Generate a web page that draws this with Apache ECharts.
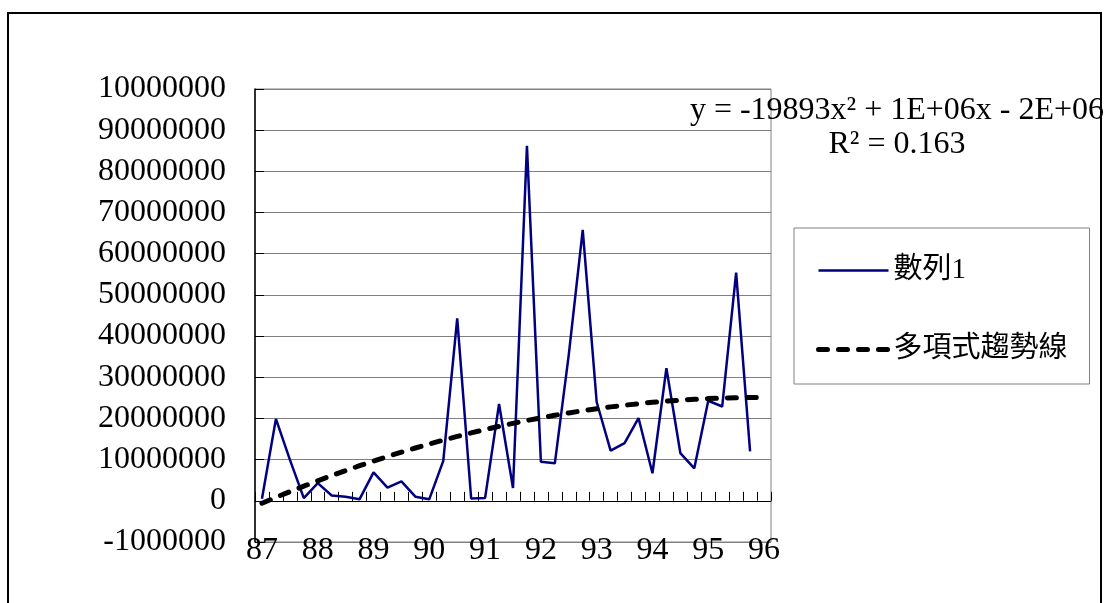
<!DOCTYPE html>
<html>
<head>
<meta charset="utf-8">
<script src="https://cdn.jsdelivr.net/npm/echarts@6/dist/echarts.min.js"></script>
<style>
  html, body { margin: 0; padding: 0; background: #ffffff; }
  #chart { width: 1105px; height: 603px; }
</style>
</head>
<body>
<div id="chart"></div>
<script>
// Quarterly periods from 87 to the first quarter of 96
const yearLabels = ['87', '88', '89', '90', '91', '92', '93', '94', '95', '96'];
const periods = yearLabels.flatMap(y => [y + '-1', y + '-2', y + '-3', y + '-4']).slice(0, 37);

// 數列1 values, one per quarter
const series1 = [
  500000, 19900000, 10000000, 650000, 4300000, 1300000, 1000000, 400000,
  6900000, 3200000, 4700000, 1000000, 400000, 9700000, 44300000, 560000,
  700000, 23500000, 3100000, 86200000, 9500000, 9100000, 35500000, 65800000,
  24000000, 12200000, 14000000, 20100000, 6700000, 32200000, 11600000, 7900000,
  24300000, 22900000, 55400000, 12000000
];

// Y tick labels, bottom to top
const yTickLabels = [
  '-1000000', '0', '10000000', '20000000', '30000000', '40000000',
  '50000000', '60000000', '70000000', '80000000', '90000000', '10000000'
];
const yMin = -10000000, yMax = 100000000, yStep = 10000000;

const equationText = 'y = -19893x² + 1E+06x - 2E+06';
const rSquaredText = 'R² = 0.163';

// Second-order least-squares trend over x = 1..n, extended one period forward
function quadraticFit(values) {
  let s0 = 0, s1 = 0, s2 = 0, s3 = 0, s4 = 0, t0 = 0, t1 = 0, t2 = 0;
  values.forEach((v, i) => {
    const x = i + 1;
    s0 += 1; s1 += x; s2 += x * x; s3 += x ** 3; s4 += x ** 4;
    t0 += v; t1 += v * x; t2 += v * x * x;
  });
  const m = [[s4, s3, s2, t2], [s3, s2, s1, t1], [s2, s1, s0, t0]];
  for (let c = 0; c < 3; c++) {
    for (let r = c + 1; r < 3; r++) {
      const f = m[r][c] / m[c][c];
      for (let k = c; k < 4; k++) m[r][k] -= f * m[c][k];
    }
  }
  const sol = [0, 0, 0];
  for (let r = 2; r >= 0; r--) {
    let s = m[r][3];
    for (let k = r + 1; k < 3; k++) s -= m[r][k] * sol[k];
    sol[r] = s / m[r][r];
  }
  return sol; // [a, b, c]
}
const [qa, qb, qc] = quadraticFit(series1);
const trend = periods.map((_, i) => {
  const x = i + 1;
  return qa * x * x + qb * x + qc;
});

const serif = "'Liberation Serif', 'Times New Roman', 'Noto Sans CJK TC', serif";

const chart = echarts.init(document.getElementById('chart'), null, { renderer: 'canvas' });
chart.setOption({
  animation: false,
  backgroundColor: '#ffffff',
  grid: {
    left: 255, top: 89, width: 516, height: 453,
    show: true, borderColor: '#808080', borderWidth: 1, backgroundColor: 'transparent'
  },
  xAxis: {
    type: 'category',
    data: periods,
    boundaryGap: true,
    axisLine: { show: true, onZero: true, lineStyle: { color: '#000000', width: 1 } },
    axisTick: { show: true, inside: true, length: 9, interval: 0, lineStyle: { color: '#000000', width: 1 } },
    axisLabel: {
      interval: 3,
      margin: -7,
      color: '#000000',
      fontFamily: serif,
      fontSize: 32,
      formatter: (v) => v.split('-')[0]
    },
    splitLine: { show: false }
  },
  yAxis: {
    type: 'value',
    min: yMin, max: yMax, interval: yStep,
    axisLine: { show: true, lineStyle: { color: '#000000', width: 1.5 } },
    axisTick: { show: true, inside: true, length: 9, lineStyle: { color: '#000000', width: 1 } },
    axisLabel: {
      margin: 29,
      color: '#000000',
      fontFamily: serif,
      fontSize: 32,
      formatter: (v) => yTickLabels[Math.round((v - yMin) / yStep)]
    },
    splitLine: { show: true, lineStyle: { color: '#808080', width: 1 } }
  },
  legend: {
    orient: 'vertical',
    left: 794, top: 228,
    padding: [28, 22, 20, 22],
    itemGap: 50,
    itemWidth: 70,
    itemHeight: 29,
    borderColor: '#808080',
    borderWidth: 1,
    backgroundColor: '#ffffff',
    textStyle: { color: '#000000', fontFamily: serif, fontSize: 29 },
    itemStyle: { color: 'rgba(0,0,0,0)', borderWidth: 0, opacity: 0 },
    lineStyle: { width: 'inherit', type: 'inherit', cap: 'inherit' },
    data: ['數列1', '多項式趨勢線']
  },
  series: [
    {
      name: '數列1',
      type: 'line',
      data: series1,
      symbol: 'none',
      lineStyle: { color: '#000080', width: 2.5 },
      itemStyle: { color: '#000080' },
      z: 3
    },
    {
      name: '多項式趨勢線',
      type: 'line',
      data: trend,
      symbol: 'none',
      smooth: false,
      lineStyle: { color: '#000000', width: 5, type: [9, 11], cap: 'round' },
      itemStyle: { color: '#000000' },
      z: 4
    }
  ],
  graphic: [
    {
      type: 'rect',
      silent: true,
      shape: { x: 8, y: 13, width: 1093, height: 600 },
      style: { fill: 'none', stroke: '#000000', lineWidth: 2 }
    },
    {
      type: 'text',
      silent: true,
      style: {
        text: equationText, x: 897, y: 111, align: 'center', verticalAlign: 'middle',
        fill: '#000000', font: "32px 'Liberation Serif', 'Times New Roman', serif"
      }
    },
    {
      type: 'text',
      silent: true,
      style: {
        text: rSquaredText, x: 897, y: 145, align: 'center', verticalAlign: 'middle',
        fill: '#000000', font: "32px 'Liberation Serif', 'Times New Roman', serif"
      }
    }
  ]
});
</script>
</body>
</html>
